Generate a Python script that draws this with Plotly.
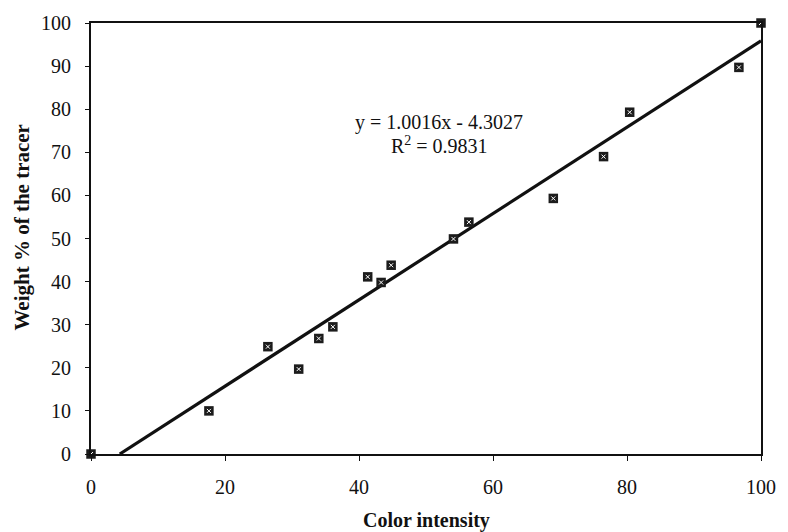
import numpy as np
import plotly.graph_objects as go

# Data
color_intensity = [0, 17.6, 26.4, 31.0, 34.0, 36.1, 41.3, 43.3, 44.8, 54.1, 56.4, 69.0, 76.5, 80.4, 96.7, 100]
weight_pct = [0, 10.0, 24.9, 19.7, 26.8, 29.5, 41.1, 39.8, 43.8, 49.9, 53.8, 59.3, 69.0, 79.3, 89.7, 100]

slope = 1.0016
intercept = -4.3027
r_squared = 0.9831

x_ticks = [0, 20, 40, 60, 80, 100]
y_ticks = [0, 10, 20, 30, 40, 50, 60, 70, 80, 90, 100]

x_title = "Color intensity"
y_title = "Weight % of the tracer"

# Trendline drawn over the x range, clipped at y = 0 (as Excel does)
x_start = max(0.0, -intercept / slope)
x_end = 100.0
trend_x = [x_start, x_end]
trend_y = [slope * v + intercept for v in trend_x]

FONT = "Liberation Serif"

fig = go.Figure()
fig.add_trace(go.Scatter(
    x=trend_x, y=trend_y, mode="lines",
    line=dict(color="#111111", width=3.2),
    hoverinfo="skip", cliponaxis=False,
))
fig.add_trace(go.Scatter(
    x=color_intensity, y=weight_pct, mode="markers",
    marker=dict(symbol="square", size=9.5, color="#1c1c1c", line=dict(width=0)),
    cliponaxis=False,
))
fig.add_trace(go.Scatter(
    x=color_intensity, y=weight_pct, mode="markers",
    marker=dict(symbol="x-thin", size=4, color="white", line=dict(width=1, color="white")),
    cliponaxis=False, hoverinfo="skip",
))

fig.update_layout(
    width=788, height=532,
    margin=dict(l=91, r=18, t=17, b=78),
    paper_bgcolor="white", plot_bgcolor="white",
    showlegend=False,
    font=dict(family=FONT, size=20, color="#111111"),
)
fig.update_xaxes(
    range=[0, 100], tickvals=x_ticks, ticktext=[str(v) for v in x_ticks],
    showgrid=False, zeroline=False,
    showline=True, linecolor="#111111", linewidth=2, mirror=True,
    ticks="outside", ticklen=5, tickcolor="#111111", tickwidth=1,
    ticklabelstandoff=9,
    tickfont=dict(family=FONT, size=20),
)
fig.update_yaxes(
    range=[0, 100], tickvals=y_ticks, ticktext=[str(v) for v in y_ticks],
    showgrid=False, zeroline=False,
    showline=True, linecolor="#111111", linewidth=2, mirror=True,
    ticks="outside", ticklen=4, tickcolor="#111111", tickwidth=1,
    ticklabelstandoff=10,
    tickfont=dict(family=FONT, size=20),
)

fig.add_annotation(
    text=f"<b>{x_title}</b>", xref="paper", yref="paper",
    x=0.5, y=0, yshift=-66, showarrow=False,
    font=dict(family=FONT, size=20), xanchor="center", yanchor="middle",
)
fig.add_annotation(
    text=f"<b>{y_title}</b>", xref="paper", yref="paper",
    x=0, xshift=-70, y=0.5, yshift=11, textangle=-90, showarrow=False,
    font=dict(family=FONT, size=21), xanchor="center", yanchor="middle",
)
fig.add_annotation(
    text=f"y = {slope:.4f}x - {abs(intercept):.4f}", xref="x", yref="y",
    x=52.0, y=77.0, showarrow=False,
    font=dict(family=FONT, size=20), xanchor="center", yanchor="middle",
)
fig.add_annotation(
    text=f"R<sup>2</sup> = {r_squared:.4f}", xref="x", yref="y",
    x=52.0, y=71.6, showarrow=False,
    font=dict(family=FONT, size=20), xanchor="center", yanchor="middle",
)

fig.write_html("out.html")
